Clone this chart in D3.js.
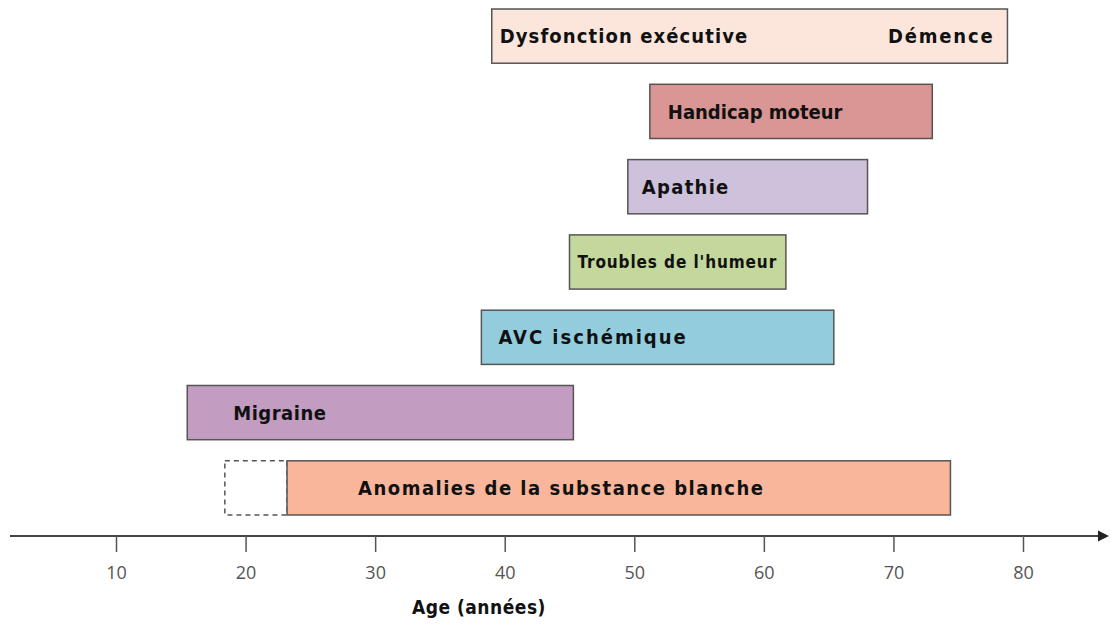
<!DOCTYPE html>
<html>
<head>
<meta charset="utf-8">
<script src="https://cdn.jsdelivr.net/npm/d3@7"></script>
<style>
  body { margin: 0; background: #fff; }
  svg { display: block; }
</style>
</head>
<body>
<div id="chart"></div>
<script>
// Conditions (top to bottom) with the age range in which they appear
var categories = ["Dysfonction exécutive", "Handicap moteur", "Apathie", "Troubles de l'humeur",
  "AVC ischémique", "Migraine", "Anomalies de la substance blanche"];
var startAge = [39.0, 51.2, 49.5, 45.0, 38.2, 15.5, 23.2];
var endAge = [78.8, 73.0, 68.0, 61.7, 65.4, 45.3, 74.4];
var uncertainStart = [null, null, null, null, null, null, 18.4]; // dashed part
var rightLabels = ["Démence", "", "", "", "", "", ""];
var tickValues = [10, 20, 30, 40, 50, 60, 70, 80];
var axisTitle = "Age (années)";

// styles
var colors = ["#fce5da", "#d99694", "#cdc1dc", "#c4d79d", "#93cddd", "#c39cc1", "#f9b69a"];
var labelPad = [8, 18, 14, 8, 17, 46, 71];
var labelSize = [20, 20, 20, 17, 20, 20, 20];
var labelSpacing = [1.1, 0, 1.3, 0.9, 2, 0.5, 1.5];
var labelFont = "'DejaVu Sans Condensed', 'DejaVu Sans', sans-serif";

var width = 1111, height = 630;

var svg = d3.select("#chart").append("svg")
  .attr("width", width)
  .attr("height", height);

var x = d3.scaleLinear().domain([10, 80]).range([116, 1023]);
var y = d3.scaleBand().domain(categories).range([9, 515]).paddingInner(0.28).paddingOuter(0);

var rows = categories.map(function (c, i) {
  return { name: c, start: startAge[i], end: endAge[i], pre: uncertainStart[i], right: rightLabels[i], i: i };
});

// dashed (uncertain) onset
svg.selectAll(".pre")
  .data(rows.filter(function (d) { return d.pre != null; }))
  .enter().append("rect")
  .attr("class", "pre")
  .attr("x", function (d) { return x(d.pre); })
  .attr("y", function (d) { return y(d.name); })
  .attr("width", function (d) { return x(d.start) - x(d.pre); })
  .attr("height", y.bandwidth())
  .style("fill", "none")
  .style("stroke", "#555")
  .style("stroke-width", 1.5)
  .style("stroke-dasharray", "5,4");

// bars
svg.selectAll(".bar")
  .data(rows)
  .enter().append("rect")
  .attr("class", "bar")
  .attr("x", function (d) { return x(d.start); })
  .attr("y", function (d) { return y(d.name); })
  .attr("width", function (d) { return x(d.end) - x(d.start); })
  .attr("height", y.bandwidth())
  .style("fill", function (d) { return colors[d.i]; })
  .style("stroke", "#555")
  .style("stroke-width", 1.5);

// labels
svg.selectAll(".label")
  .data(rows)
  .enter().append("text")
  .attr("class", "label")
  .attr("x", function (d) { return x(d.start) + labelPad[d.i]; })
  .attr("y", function (d) { return y(d.name) + y.bandwidth() / 2; })
  .attr("dy", "0.36em")
  .style("font-family", labelFont)
  .style("font-weight", "bold")
  .style("font-size", function (d) { return labelSize[d.i] + "px"; })
  .style("letter-spacing", function (d) { return labelSpacing[d.i] + "px"; })
  .style("fill", "#111")
  .text(function (d) { return d.name; });

svg.selectAll(".rlabel")
  .data(rows.filter(function (d) { return d.right; }))
  .enter().append("text")
  .attr("class", "rlabel")
  .attr("x", function (d) { return x(d.end) - 13; })
  .attr("y", function (d) { return y(d.name) + y.bandwidth() / 2; })
  .attr("dy", "0.36em")
  .attr("text-anchor", "end")
  .style("font-family", labelFont)
  .style("font-weight", "bold")
  .style("font-size", "20px")
  .style("letter-spacing", "1.8px")
  .style("fill", "#111")
  .text(function (d) { return d.right; });

// axis
var axisY = 536;
svg.append("defs").append("marker")
  .attr("id", "arrow")
  .attr("viewBox", "0 0 10 10")
  .attr("refX", 1).attr("refY", 5)
  .attr("markerWidth", 5.5).attr("markerHeight", 8)
  .attr("markerUnits", "strokeWidth")
  .attr("orient", "auto")
  .append("path")
  .attr("d", "M0,0L10,5L0,10Z")
  .style("fill", "#222");

svg.append("line")
  .attr("x1", 10).attr("x2", 1099)
  .attr("y1", axisY).attr("y2", axisY)
  .style("stroke", "#444")
  .style("stroke-width", 2)
  .attr("marker-end", "url(#arrow)");

var xAxis = svg.append("g")
  .attr("transform", "translate(0," + axisY + ")")
  .call(d3.axisBottom(x).tickValues(tickValues).tickSize(16).tickPadding(14));

xAxis.select(".domain").remove();
xAxis.selectAll(".tick line").style("stroke", "#555").style("stroke-width", 1.5);
xAxis.selectAll(".tick text")
  .style("font-family", "'Open Sans', 'Noto Sans', sans-serif")
  .style("font-size", "18px")
  .style("fill", "#555");

svg.append("text")
  .attr("x", 412)
  .attr("y", 614)
  .style("font-family", labelFont)
  .style("font-weight", "bold")
  .style("font-size", "19px")
  .style("letter-spacing", "0.5px")
  .style("fill", "#111")
  .text(axisTitle);
</script>
</body>
</html>
